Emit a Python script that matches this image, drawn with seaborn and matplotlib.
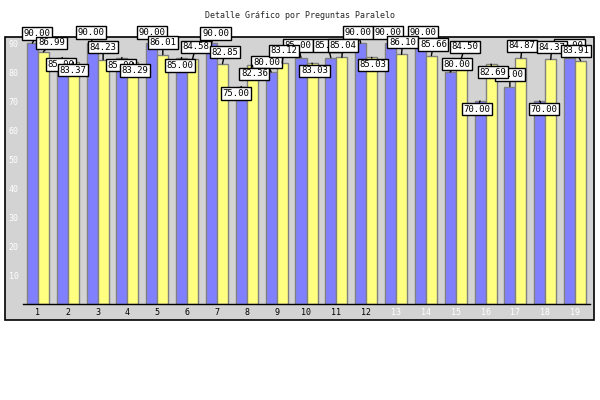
import matplotlib
matplotlib.use("Agg")
import matplotlib.pyplot as plt
import seaborn as sns
import pandas as pd
from matplotlib.patches import Rectangle

# ---- data ----
preguntas = [str(i) for i in range(1, 20)]
serie_azul = [90.00, 85.00, 90.00, 85.00, 90.00, 85.00, 90.00, 75.00, 80.00, 85.00,
              85.00, 90.00, 90.00, 90.00, 80.00, 70.00, 75.00, 70.00, 85.00]
serie_amarilla = [86.99, 83.37, 84.23, 83.29, 86.01, 84.58, 82.85, 82.36, 83.12, 83.03,
                  85.04, 85.03, 86.10, 85.66, 84.50, 82.69, 84.87, 84.37, 83.91]
series = ["Serie 1", "Serie 2"]
titulo = "Detalle Gráfico por Preguntas Paralelo"

# label offsets (pixels, dx right, dy down) relative to bar top centre
off_azul = [(5, -9.5), (-1.5, 7), (-1, -10.5), (-1, 7.6), (0, -10.5), (-1.7, 8), (4, -9.5),
            (-5, 7), (-4.6, -10), (-3, -12), (-3, -12), (-2.5, -10.5), (-2.3, -10.5),
            (3, -11), (6.5, -8), (-3, 8), (0, -12), (4, 8), (0, -12)]
off_amar = [(8, -9), (0, 8), (0, -12.7), (2, 8), (0, -12), (3, -12), (2.5, -11.6),
            (2, 8.6), (1.5, -12), (2.5, 7.5), (1, -12), (1.5, 7.3), (1, -12), (2, -11),
            (3.5, -12), (1.5, 8), (1.3, -12), (1, -12), (-5, -10)]

df = pd.DataFrame({
    "pregunta": preguntas * 2,
    "valor": serie_azul + serie_amarilla,
    "serie": [series[0]] * len(preguntas) + [series[1]] * len(preguntas),
})

sns.set_style("white")
plt.rcParams["font.family"] = ["DejaVu Sans Mono", "DejaVu Sans"]

GRAY = "#D3D3D3"
fig = plt.figure(figsize=(6, 4), dpi=100)
fig.patches.append(Rectangle((5 / 600, 80 / 400), 589 / 600, 283 / 400,
                             transform=fig.transFigure, facecolor=GRAY,
                             edgecolor="black", linewidth=1.2, zorder=0))
ax = fig.add_axes([23 / 600, 96 / 400, 567 / 600, 267 / 400])
ax.set_zorder(2)
ax.set_facecolor(GRAY)
ax.patch.set_alpha(0)

sns.barplot(data=df, x="pregunta", y="valor", hue="serie", order=preguntas,
            hue_order=series, dodge=True, gap=0,
            palette=["#8080FF", "#FFFF80"], saturation=1, width=0.74,
            edgecolor="#808080", linewidth=1, legend=False, ax=ax)

ax.set_xlim(-0.5, len(preguntas) - 0.5)
ax.set_ylim(0, 92.07)
ax.set_xlabel("")
ax.set_ylabel("")
ax.set_yticks([10, 20, 30, 40, 50, 60, 70, 80, 90])
ax.tick_params(axis="y", length=0, pad=3, labelsize=6, labelcolor="white")
ax.tick_params(axis="x", direction="inout", length=4, width=1, color="black",
               pad=1, labelsize=6)
for i, lab in enumerate(ax.get_xticklabels()):
    lab.set_color("black" if i < 12 else "white")
for s in ["top", "left", "right"]:
    ax.spines[s].set_visible(False)
ax.spines["bottom"].set_color("black")
ax.spines["bottom"].set_linewidth(1)

fig.text(0.5, 1 - 15 / 400, titulo, ha="center", va="center", fontsize=6,
         family="DejaVu Sans Mono")

n = len(preguntas)
bars_azul = ax.patches[:n]
bars_amar = ax.patches[n:2 * n]
box = dict(boxstyle="square,pad=0.18", fc="white", ec="black", lw=1)
for group, vals, offs in [(bars_azul, serie_azul, off_azul),
                          (bars_amar, serie_amarilla, off_amar)]:
    for p, v, (dx, dy) in zip(group, vals, offs):
        xc = p.get_x() + p.get_width() / 2
        ax.annotate(f"{v:.2f}", xy=(xc, p.get_height()),
                    xytext=(dx * 0.72, -dy * 0.72), textcoords="offset points",
                    ha="center", va="center", fontsize=6.5, color="black",
                    bbox=box, annotation_clip=False, zorder=5,
                    arrowprops=dict(arrowstyle="-", color="black", lw=1,
                                    shrinkA=0, shrinkB=0))

fig.savefig("out.png", dpi=100)
